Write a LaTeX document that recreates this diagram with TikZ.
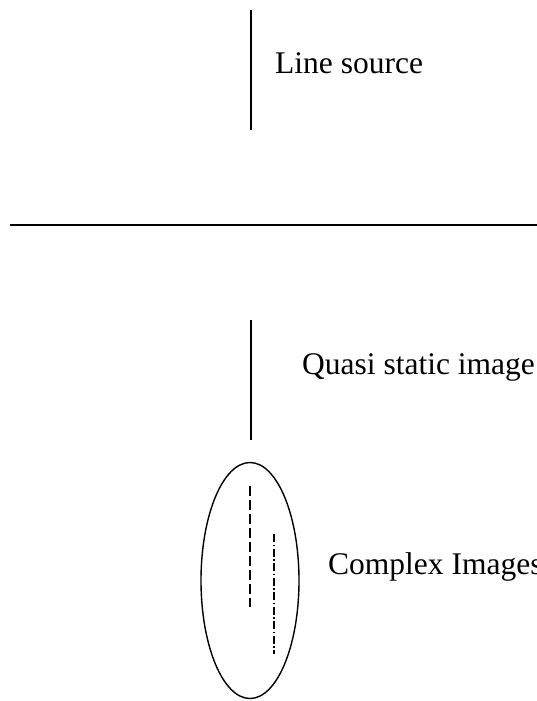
\documentclass[tikz,border=0pt]{standalone}
\usepackage{fontspec}
\setmainfont{Liberation Serif}
\usetikzlibrary{shapes.geometric}
\begin{document}
\begin{tikzpicture}[x=1pt,y=-1pt,
  ln/.style={line width=1.4pt, black},
  lbl/.style={anchor=base west, inner sep=0pt, font=\fontsize{31.5}{36}\selectfont}]
\useasboundingbox (0,0) rectangle (537,701);
% line source
\coordinate (ls1) at (251,10);
\coordinate (ls2) at (251,130);
\draw[ln] (ls1) -- (ls2);
\node[lbl] (lstext) at (275,74) {Line source};
% interface
\coordinate (h1) at (10,225);
\coordinate (h2) at (537,225);
\draw[ln] (h1) -- (h2);
% quasi static image
\coordinate (q1) at (251,320);
\coordinate (q2) at (251,440);
\draw[ln] (q1) -- (q2);
\node[lbl] (qtext) at (302,374) {Quasi static image};
% complex images
\node[draw, line width=1.4pt, ellipse, minimum width=98pt, minimum height=236pt, inner sep=0pt] (ell) at (250,580.5) {};
\coordinate (d1) at (250,486);
\coordinate (d2) at (250,607);
\draw[line width=1.2pt, dash pattern=on 10pt off 4pt] (d1) -- (d2);
\coordinate (c1) at (274,534);
\coordinate (c2) at (274,654);
\draw[line width=1.2pt, dash pattern=on 8pt off 2.5pt on 1.5pt off 2.5pt] (c1) -- (c2);
\node[lbl] (ctext) at (328,574) {Complex Images};
\end{tikzpicture}
\end{document}
